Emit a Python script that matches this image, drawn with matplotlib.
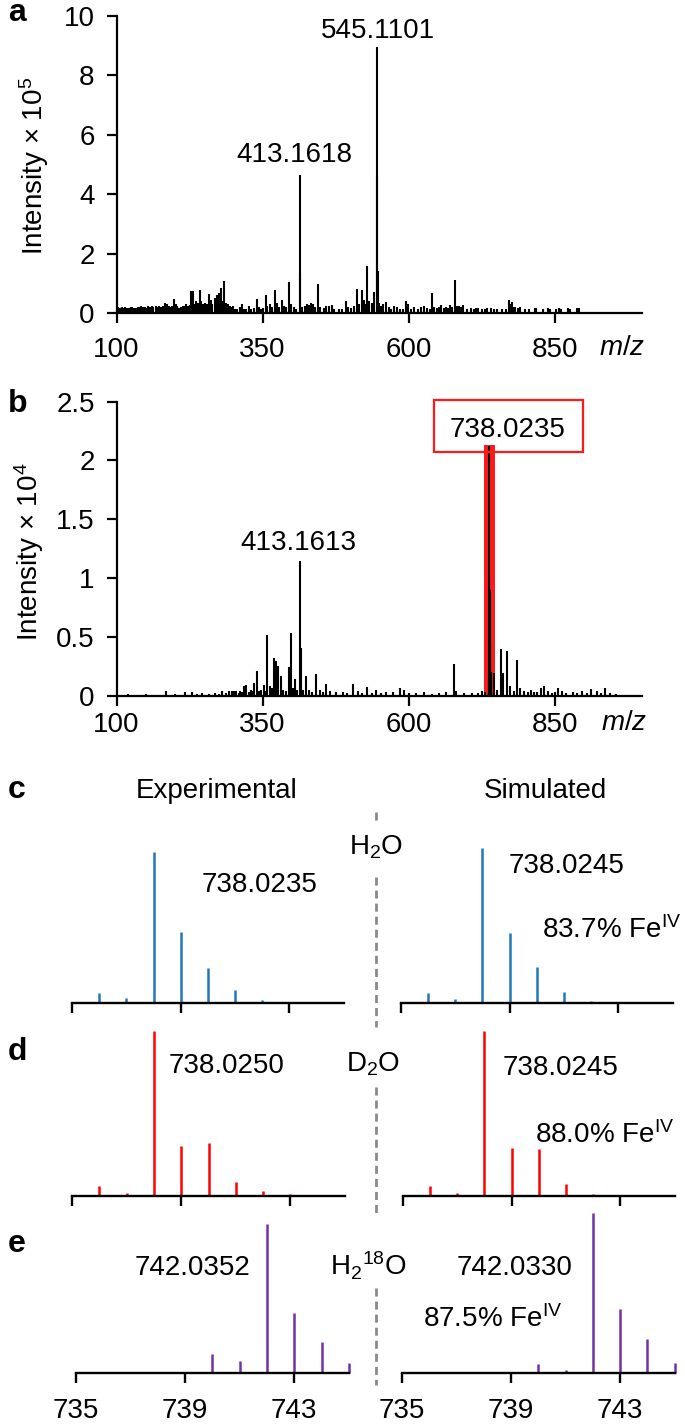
import matplotlib
matplotlib.use('Agg')
import matplotlib.pyplot as plt
from matplotlib.lines import Line2D
from matplotlib.patches import Rectangle

plt.rcParams['font.family'] = ['Liberation Sans', 'DejaVu Sans']
plt.rcParams['mathtext.fontset'] = 'custom'
plt.rcParams['mathtext.rm'] = 'Liberation Sans'
plt.rcParams['mathtext.it'] = 'Liberation Sans:italic'
plt.rcParams['mathtext.bf'] = 'Liberation Sans:bold'
plt.rcParams['lines.scale_dashes'] = False

# ---- panel a: full spectrum, intensity x 1e5 ----
a_mz = [100, 103, 106, 109, 112, 115, 118, 121, 124, 127,
        130, 133, 136, 139, 142, 145, 148, 151, 154, 157,
        160, 163, 167, 170, 173, 176, 179, 183, 186, 189,
        192, 195, 198, 201, 204, 207, 210, 213, 216, 219,
        222, 225, 227, 230, 233, 236, 239, 242, 245, 248,
        252, 255, 258, 261, 264, 268, 272, 275, 279, 282,
        284.7, 288, 291, 294, 297, 300,
        303, 307, 311, 315, 319, 322, 326.6, 330, 335, 340,
        344, 348, 351, 355, 358, 362, 366, 370.7, 374, 378,
        382.7, 386, 390, 394.6, 398, 403, 407, 413.2, 414.2, 418,
        422, 426, 430, 433, 436, 440, 445.5, 449, 455, 459,
        463, 468.7, 472, 480, 486, 492.6, 497, 501, 506, 511,
        515, 519.5, 523, 526, 529, 533, 537, 541, 545.1, 546.1,
        547.1, 550, 553, 556, 562, 566, 570, 575, 580, 585,
        590, 596, 599, 604, 610, 616, 622, 626, 631, 636,
        640.7, 644, 648, 652, 655.6, 660, 664, 667, 670.6, 674,
        679.5, 683, 687, 690, 693, 700, 706, 712, 715, 718,
        726, 730, 735, 741.6, 746, 752, 760, 766, 771.5, 774,
        777, 780, 783, 787, 790, 800, 806, 816, 819, 830,
        839, 842, 852, 857.5, 861, 872.5, 876, 889, 892]
a_int = [0.18, 0.20, 0.16, 0.19, 0.17, 0.20, 0.18, 0.16, 0.19, 0.21,
         0.18, 0.17, 0.20, 0.19, 0.22, 0.20, 0.21, 0.18, 0.22, 0.20,
         0.23, 0.21, 0.24, 0.20, 0.22, 0.19, 0.25, 0.34, 0.30, 0.22,
         0.20, 0.25, 0.48, 0.30, 0.22, 0.18, 0.20, 0.25, 0.22, 0.30,
         0.25, 0.28, 0.73, 0.75, 0.30, 0.40, 0.35, 0.79, 0.40, 0.30,
         0.35, 0.30, 0.65, 0.45, 0.30, 0.50, 0.62, 0.67, 0.85, 0.40,
         1.08, 0.35, 0.30, 0.25, 0.20, 0.22,
         0.15, 0.12, 0.20, 0.29, 0.15, 0.12, 0.22, 0.15, 0.18, 0.48,
         0.20, 0.15, 0.18, 0.60, 0.25, 0.30, 0.20, 0.76, 0.35, 0.20,
         0.45, 0.25, 0.20, 1.04, 0.30, 0.20, 0.15, 4.65, 1.30, 0.20,
         0.25, 0.30, 0.28, 0.32, 0.30, 0.20, 0.97, 0.20, 0.18, 0.24,
         0.25, 0.26, 0.15, 0.15, 0.12, 0.40, 0.20, 0.18, 0.22, 0.81,
         0.30, 0.76, 0.45, 0.30, 1.57, 0.40, 0.35, 0.70, 8.97, 4.60,
         1.40, 0.35, 0.25, 0.30, 0.37, 0.20, 0.15, 0.25, 0.20, 0.12,
         0.15, 0.40, 0.30, 0.15, 0.20, 0.15, 0.20, 0.25, 0.18, 0.15,
         0.69, 0.20, 0.18, 0.20, 0.26, 0.18, 0.20, 0.18, 0.26, 0.20,
         1.12, 0.22, 0.25, 0.20, 0.26, 0.15, 0.18, 0.15, 0.18, 0.16,
         0.15, 0.15, 0.18, 0.18, 0.15, 0.12, 0.15, 0.12, 0.45, 0.30,
         0.37, 0.20, 0.20, 0.18, 0.20, 0.15, 0.12, 0.18, 0.16, 0.12,
         0.18, 0.15, 0.12, 0.18, 0.15, 0.18, 0.15, 0.18, 0.18]

# ---- panel b: full spectrum, intensity x 1e4 ----
b_mz = [120, 150, 185, 200, 217, 229, 238, 247, 258, 268,
        275, 281, 288, 293, 297, 301, 305, 309, 312, 315,
        318, 322, 326, 330, 333, 336, 340, 344, 348, 352,
        355, 358, 362, 366, 370, 373.7, 377, 381, 385, 390,
        394.4, 398.6, 402, 405.7, 409, 413.2, 415.7, 419, 424, 429,
        435, 442, 448, 453, 458, 466, 475, 487, 495, 504.6,
        513.5, 520, 529.5, 537, 544, 552, 561, 573, 584.6, 591.7,
        600, 612, 626, 640, 652.7, 664.6, 677.6, 682, 695, 709,
        718, 725.6, 730, 737, 738.0, 739, 740, 741, 746, 752,
        758, 762, 769, 774, 780, 786, 790.7, 798, 804, 809.7,
        815, 820, 826, 832, 839, 845, 850, 856, 863, 870,
        880.8, 889, 897, 905, 913, 922, 929, 936, 945, 955]
b_int = [0.010, 0.015, 0.042, 0.015, 0.034, 0.028, 0.015, 0.025, 0.015, 0.025,
         0.015, 0.040, 0.020, 0.037, 0.037, 0.037, 0.037, 0.020, 0.037, 0.030,
         0.084, 0.087, 0.030, 0.050, 0.040, 0.107, 0.205, 0.040, 0.050, 0.093,
         0.040, 0.514, 0.080, 0.060, 0.317, 0.290, 0.247, 0.163, 0.050, 0.040,
         0.242, 0.534, 0.060, 0.140, 0.050, 1.140, 0.400, 0.050, 0.170, 0.050,
         0.030, 0.185, 0.050, 0.030, 0.100, 0.040, 0.030, 0.030, 0.020, 0.098,
         0.042, 0.020, 0.070, 0.020, 0.050, 0.020, 0.030, 0.030, 0.062, 0.050,
         0.020, 0.020, 0.030, 0.015, 0.025, 0.030, 0.267, 0.037, 0.020, 0.022,
         0.020, 0.042, 0.030, 0.140, 2.120, 0.900, 0.450, 0.200, 0.190, 0.050,
         0.393, 0.190, 0.380, 0.080, 0.040, 0.303, 0.065, 0.037, 0.030, 0.050,
         0.030, 0.030, 0.065, 0.080, 0.037, 0.020, 0.030, 0.060, 0.037, 0.020,
         0.030, 0.020, 0.037, 0.020, 0.056, 0.037, 0.020, 0.060, 0.020, 0.015]
b_hl_mz = 738.0235
b_hl_top = 2.13

# ---- panels c-e: isotope patterns (relative intensity) ----
c_exp_mz = [736, 737, 738, 739, 740, 741, 742]
c_exp_int = [0.06, 0.03, 1.0, 0.47, 0.23, 0.08, 0.015]
c_sim_mz = [736, 737, 738, 739, 740, 741, 742]
c_sim_int = [0.063, 0.022, 1.0, 0.45, 0.23, 0.07, 0.012]

d_exp_mz = [735.8, 736, 737, 737.6, 738, 738.6, 739, 739.6, 740, 740.6, 741, 742, 743]
d_exp_int = [0.006, 0.06, 0.02, 0.006, 1.0, 0.006, 0.305, 0.006, 0.32, 0.006, 0.085, 0.032, 0.01]
d_sim_mz = [736, 737, 738, 739, 740, 741, 742]
d_sim_int = [0.06, 0.02, 1.0, 0.29, 0.285, 0.07, 0.01]

e_exp_mz = [738, 739, 739.86, 740, 741, 741.7, 742, 743, 743.85, 744, 745]
e_exp_int = [0.004, 0.005, 0.01, 0.13, 0.08, 0.005, 1.0, 0.40, 0.005, 0.21, 0.067]
e_sim_mz = [740, 741, 742, 743, 744, 745]
e_sim_int = [0.059, 0.017, 1.0, 0.40, 0.215, 0.06]

iso_ticks = [735, 739, 743]
full_ticks = [100, 350, 600, 850]

W, H = 685, 1424
FS = 20
fig = plt.figure(figsize=(W / 100, H / 100), dpi=100)


def px_axes(x0, x1, ybase, ytop):
    return fig.add_axes([x0 / W, 1 - ybase / H, (x1 - x0) / W, (ybase - ytop) / H])


def ftext(x, y, s, **kw):
    kw.setdefault('fontsize', FS)
    kw.setdefault('va', 'baseline')
    fig.text(x / W, 1 - y / H, s, **kw)


def full_axes(ax, ytop, xpad):
    ax.set_xlim(100, 1000)
    ax.set_ylim(0, ytop)
    for s in ['top', 'right']:
        ax.spines[s].set_visible(False)
    for s in ['left', 'bottom']:
        ax.spines[s].set_linewidth(1.6)
    ax.set_xticks(full_ticks)
    ax.tick_params(direction='out', length=7.2, width=1.6, labelsize=FS)
    ax.tick_params(axis='x', pad=xpad)
    ax.tick_params(axis='y', pad=8.6)
    ax.patch.set_alpha(0)


# panel a
ax_a = px_axes(116.6, 642.2, 313, 16)
ax_a.vlines(a_mz, 0, a_int, color='black', lw=1.5)
full_axes(ax_a, 10, 10)
ax_a.set_yticks([0, 2, 4, 6, 8, 10])

# panel b
ax_b = px_axes(116.6, 642.2, 695.5, 401.5)
ax_b.bar([b_hl_mz], [b_hl_top], width=19, color='#ff1a1a', zorder=1)
ax_b.vlines(b_mz, 0, b_int, color='black', lw=1.5, zorder=2)
full_axes(ax_b, 2.5, 5)
ax_b.set_yticks([0, 0.5, 1, 1.5, 2, 2.5], ['0', '0.5', '1', '1.5', '2', '2.5'])


def iso_axes(x0, x1, ybase, ytop, mz, inten, color, labels):
    ax = px_axes(x0, x1, ybase, ytop)
    ax.vlines(mz, 0, inten, color=color, lw=1.8, capstyle='butt', clip_on=False)
    ax.set_xlim(735, 745)
    ax.set_ylim(0, 1)
    for s in ['top', 'right', 'left']:
        ax.spines[s].set_visible(False)
    ax.spines['bottom'].set_linewidth(1.7)
    ax.set_yticks([])
    ax.set_xticks(iso_ticks)
    ax.tick_params(axis='x', direction='out', length=7.2, width=1.7,
                   labelsize=FS, pad=10.5, labelbottom=labels)
    ax.patch.set_alpha(0)
    return ax


blue = '#1f78b9'
red = '#ff0000'
purple = '#7132a3'
iso_axes(72, 343.7, 1002.5, 852, c_exp_mz, c_exp_int, blue, False)
iso_axes(401, 672.6, 1002.5, 848, c_sim_mz, c_sim_int, blue, False)
iso_axes(72, 345, 1196, 1031, d_exp_mz, d_exp_int, red, False)
iso_axes(403, 674.5, 1196, 1031, d_sim_mz, d_sim_int, red, False)
iso_axes(75.5, 349, 1373, 1224, e_exp_mz, e_exp_int, purple, True)
iso_axes(401.7, 674.7, 1373, 1213, e_sim_mz, e_sim_int, purple, True)

# dashed separator
for y0, y1 in [(812, 821), (877, 1027), (1087, 1215), (1288, 1385)]:
    fig.add_artist(Line2D([376 / W, 376 / W], [1 - y0 / H, 1 - y1 / H],
                          transform=fig.transFigure, color='#8a8a8a',
                          lw=2.0, dashes=(5.8, 3.6)))

# highlight box in b
fig.add_artist(Rectangle((434 / W, 1 - 452 / H), (583 - 434) / W, (452 - 400) / H,
                         transform=fig.transFigure, fill=False,
                         edgecolor='#ff1a1a', lw=1.6))

# texts
ftext(8, 21, 'a', fontsize=23, fontweight='bold')
ftext(8, 412, 'b', fontsize=23, fontweight='bold')
ftext(8, 798, 'c', fontsize=23, fontweight='bold')
ftext(8, 1060, 'd', fontsize=23, fontweight='bold')
ftext(8, 1252, 'e', fontsize=23, fontweight='bold')

fig.text(34 / W, 1 - 166 / H, 'Intensity × 10$^5$', fontsize=FS,
         rotation=90, ha='center', va='center')
fig.text(29.5 / W, 1 - 552 / H, 'Intensity × 10$^4$', fontsize=FS,
         rotation=90, ha='center', va='center')
ftext(622, 355, '$m$/$z$', ha='center')
ftext(624, 730, '$m$/$z$', ha='center')

ftext(378, 38, '545.1101', ha='center')
ftext(294, 162, '413.1618', ha='center')
ftext(298, 550, '413.1613', ha='center')
ftext(508, 436.7, '738.0235', ha='center')

ftext(217, 798, 'Experimental', ha='center')
ftext(545, 798, 'Simulated', ha='center')

ftext(260, 891.7, '738.0235', ha='center')
ftext(567, 873, '738.0245', ha='center')
ftext(541.5, 938, '83.7% Fe$^{\\mathrm{IV}}$', ha='left')
ftext(376, 855, 'H$_2$O', ha='center')

ftext(227, 1073, '738.0250', ha='center')
ftext(561, 1075, '738.0245', ha='center')
ftext(535, 1143, '88.0% Fe$^{\\mathrm{IV}}$', ha='left')
ftext(373, 1072, 'D$_2$O', ha='center')

ftext(193, 1275, '742.0352', ha='center')
ftext(515, 1275, '742.0330', ha='center')
ftext(423, 1327, '87.5% Fe$^{\\mathrm{IV}}$', ha='left')
ftext(368, 1275, 'H$_2$$^{18}$O', ha='center')

fig.savefig('out.png', dpi=100)
